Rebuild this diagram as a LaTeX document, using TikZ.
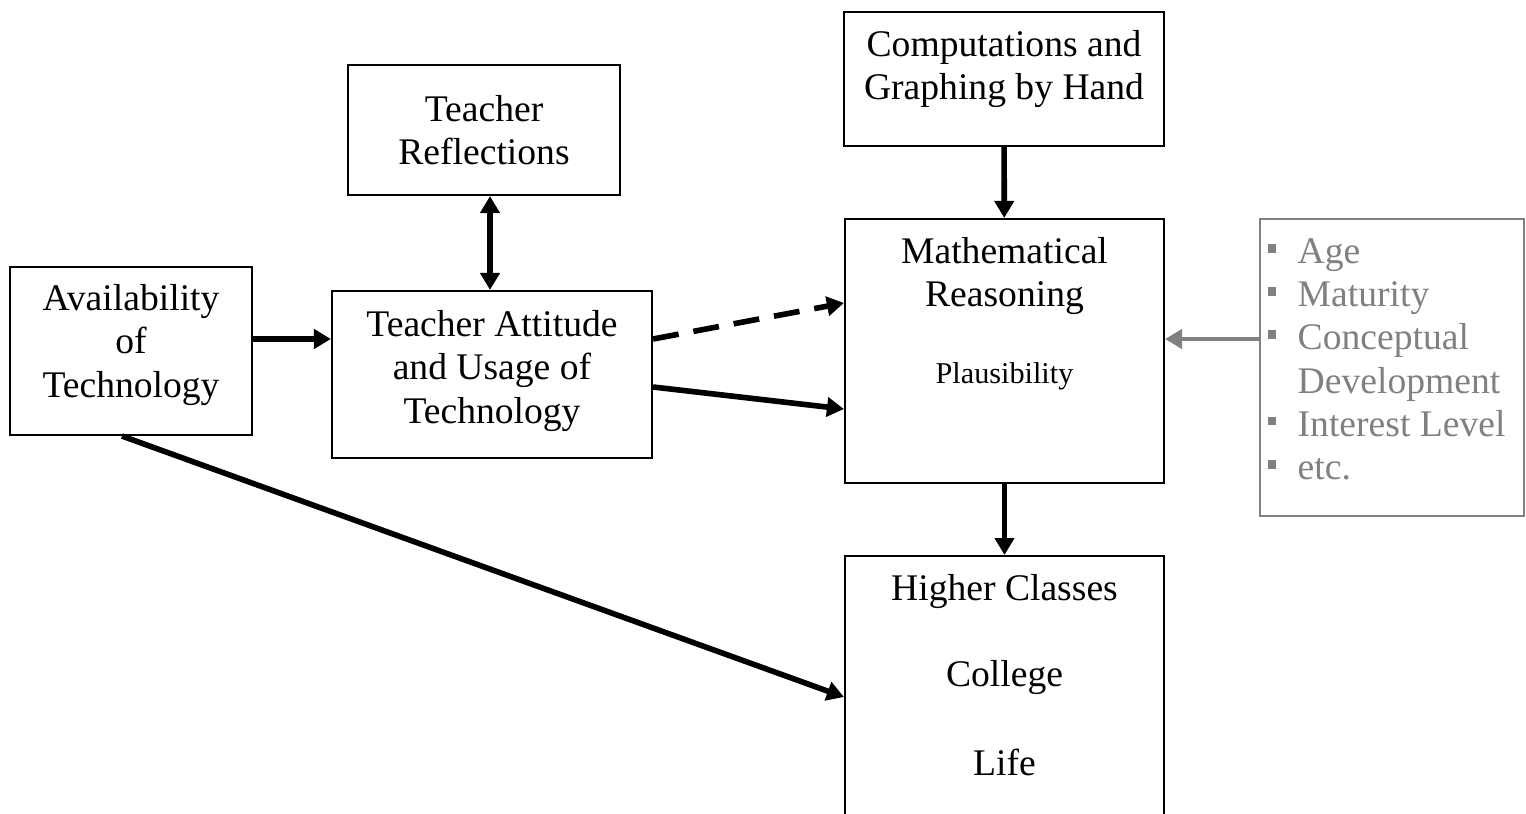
\documentclass[tikz,border=0pt]{standalone}
\usepackage{fontspec}
\setmainfont{Liberation Serif}
\usetikzlibrary{arrows.meta}
\definecolor{listgray}{RGB}{128,128,128}
\tikzset{box/.style={draw,line width=0.6pt,inner sep=0pt,align=center,font=\fontsize{10.7}{12.3}\selectfont},
	txt/.style={inner sep=0pt,align=center,font=\fontsize{10.7}{12.3}\selectfont},
	arr/.style={line width=1.6pt,-{Triangle[length=0.17cm,width=0.19cm]}}}
\newcommand{\sqbul}{\makebox[0.30cm][l]{\rule[0.11cm]{0.085cm}{0.085cm}}}

\begin{document}
\begin{tikzpicture}
	\useasboundingbox (0,0) rectangle (15.26,-8.14);
	\node [box, minimum width=2.42cm, minimum height=1.68cm] (avail) at (1.31,-3.51) {};
	\node [txt] (availT) at (1.31,-3.45) {Availability\\of\\Technology};
	\node [box, minimum width=3.20cm, minimum height=1.67cm] (attitude) at (4.92,-3.745) {};
	\node [txt] (attitudeT) at (4.92,-3.71) {Teacher Attitude\\and Usage of\\Technology};
	\node [box, minimum width=2.72cm, minimum height=1.30cm] (reflect) at (4.84,-1.30) {Teacher\\Reflections};
	\node [box, minimum width=3.20cm, minimum height=1.34cm] (comp) at (10.04,-0.79) {};
	\node [txt] (compT) at (10.04,-0.69) {Computations and\\Graphing by Hand};
	\node [box, minimum width=3.19cm, minimum height=2.64cm] (math) at (10.045,-3.51) {};
	\node [txt] (mathT) at (10.045,-2.76) {Mathematical\\Reasoning};
	\node [txt, font=\fontsize{8.6}{10}\selectfont] (plaus) at (10.045,-3.76) {Plausibility};
	\node [box, minimum width=3.19cm, minimum height=2.85cm, anchor=north] (higher) at (10.045,-5.55) {};
	\foreach \t/\y in {Higher Classes/5.92, College/6.78, Life/7.62} \node [txt] (h\y) at (10.045,-\y) {\t};
	\node [box, draw=listgray, line width=0.5pt, minimum width=2.64cm, minimum height=2.97cm] (list) at (13.92,-3.675) {};
	\node [txt, align=left, text=listgray, anchor=north west] (listT) at (12.67,-2.38) {\sqbul Age\\\sqbul Maturity\\\sqbul Conceptual\\\hspace*{0.30cm}Development\\\sqbul Interest Level\\\sqbul etc.};

	\draw [arr] (avail.east |- 0,-3.39) -- (attitude.west |- 0,-3.39);
	\draw [arr, {Triangle[length=0.17cm,width=0.19cm]}-{Triangle[length=0.17cm,width=0.19cm]}] (reflect.south -| 4.90,0) -- (attitude.north -| 4.90,0);
	\draw [arr, dash pattern=on 0.26cm off 0.15cm] (attitude.east |- 0,-3.39) -- (math.west |- 0,-3.03);
	\draw [arr] (attitude.east |- 0,-3.87) -- (math.west |- 0,-4.09);
	\draw [arr] (avail.south -| 1.22,0) -- (higher.west |- 0,-6.97);
	\draw [arr] (comp) -- (math);
	\draw [arr] (math) -- (higher);
	\draw [arr, draw=listgray, fill=listgray, line width=1.3pt] (list.west |- 0,-3.39) -- (math.east |- 0,-3.39);
\end{tikzpicture}
\end{document}
